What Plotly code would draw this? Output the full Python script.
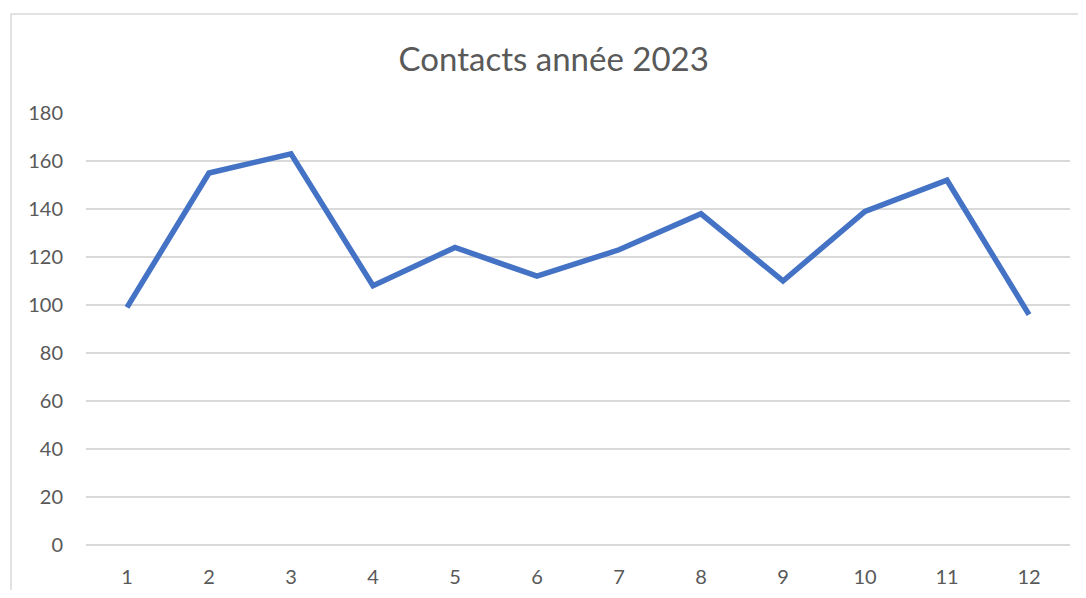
import plotly.graph_objects as go

MONTHS = ["1", "2", "3", "4", "5", "6", "7", "8", "9", "10", "11", "12"]
CONTACTS = [99, 155, 163, 108, 124, 112, 123, 138, 110, 139, 152, 96]
Y_TICKS = [0, 20, 40, 60, 80, 100, 120, 140, 160, 180]

LINE_COLOR = "#4472C4"
GRID_COLOR = "#D9D9D9"
TEXT_COLOR = "#595959"
FONT = "Lato, Carlito, Calibri, sans-serif"

fig = go.Figure(
    go.Scatter(
        x=MONTHS,
        y=CONTACTS,
        mode="lines",
        line={"color": LINE_COLOR, "width": 5.5},
        hoverinfo="x+y",
    )
)

# page body has an 8px margin, so the figure is sized to fit inside the window
fig.update_layout(
    width=1070,
    height=582,
    paper_bgcolor="white",
    plot_bgcolor="white",
    showlegend=False,
    font={"family": FONT, "color": TEXT_COLOR, "size": 20},
    margin={"l": 78, "r": 8, "t": 105, "b": 45},
    title={
        "text": "Contacts année 2023",
        "x": 0.51,
        "xref": "container",
        "xanchor": "center",
        "y": 0.911,
        "yref": "container",
        "yanchor": "middle",
        "font": {"size": 33, "color": TEXT_COLOR, "family": FONT},
    },
)

fig.update_xaxes(
    type="category",
    range=[-0.5, len(MONTHS) - 0.5],
    showgrid=False,
    showline=False,
    zeroline=False,
    ticks="",
    ticklabelstandoff=18,
    automargin=False,
)
fig.update_yaxes(
    range=[0, 180],
    tickvals=Y_TICKS,
    showgrid=True,
    gridcolor=GRID_COLOR,
    gridwidth=1.5,
    zeroline=True,
    zerolinecolor=GRID_COLOR,
    zerolinewidth=1.5,
    showline=False,
    ticks="",
    ticklabelstandoff=22,
    automargin=False,
)

# chart area border (cropped on the right and bottom in the reference)
fig.add_shape(
    type="rect",
    xref="paper",
    yref="paper",
    x0=-0.0762,
    x1=1.03,
    y0=-0.15,
    y1=1.229,
    line={"color": GRID_COLOR, "width": 1.5},
    layer="below",
)

fig.write_html("out.html")
